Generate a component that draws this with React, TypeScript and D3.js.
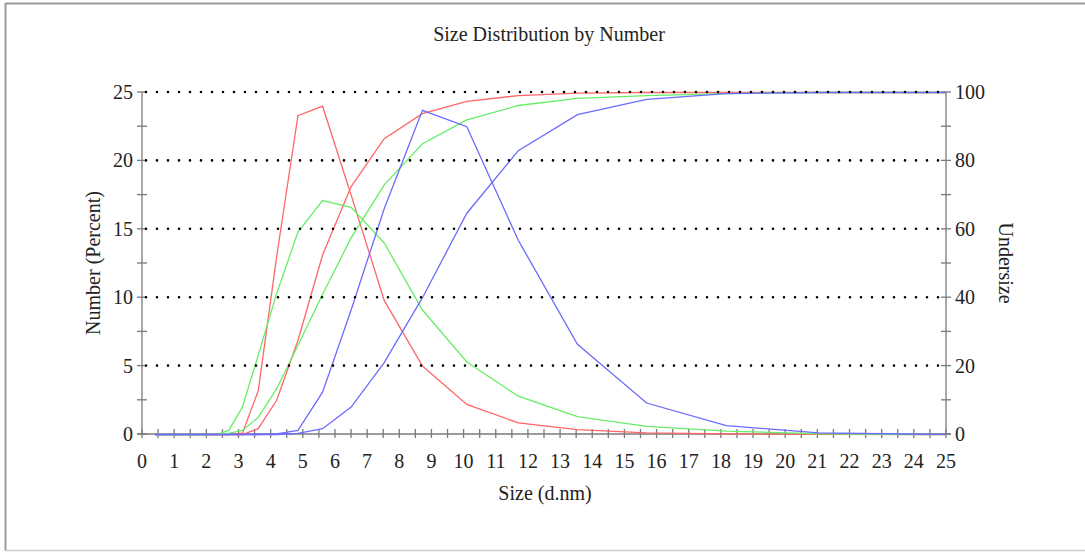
import React from "react";
import * as d3 from "d3";

const sizes = [0.4, 0.4632, 0.5365, 0.6213, 0.7195, 0.8332, 0.9649, 1.117, 1.294, 1.499, 1.736, 2.01, 2.328, 2.696, 3.122, 3.615, 4.187, 4.849, 5.615, 6.503, 7.531, 8.721, 10.1, 11.7, 13.54, 15.69, 18.17, 21.04, 24.36, 28.21];

const redNumber = [0, 0, 0, 0, 0, 0, 0, 0, 0, 0, 0, 0, 0, 0, 0.1, 3.2, 13.0, 23.3, 24.0, 17.5, 9.8, 5.0, 2.2, 0.85, 0.35, 0.12, 0.04, 0.01, 0, 0];
const redUndersize = [0, 0, 0, 0, 0, 0, 0, 0, 0, 0, 0, 0, 0, 0, 0, 1.7, 10, 27.5, 52.5, 72.5, 86.5, 93.8, 97.4, 99.1, 99.8, 100, 100, 100, 100, 100];
const greenNumber = [0, 0, 0, 0, 0, 0, 0, 0, 0, 0, 0, 0, 0, 0.3, 2.0, 5.8, 10.3, 14.8, 17.1, 16.6, 14.0, 9.1, 5.3, 2.8, 1.3, 0.6, 0.25, 0.05, 0, 0];
const greenUndersize = [0, 0, 0, 0, 0, 0, 0, 0, 0, 0, 0, 0, 0, 0.3, 1.2, 5, 13.4, 26, 41, 57.5, 73, 85, 92, 96.2, 98.3, 99.1, 99.7, 100, 100, 100];
const blueNumber = [0, 0, 0, 0, 0, 0, 0, 0, 0, 0, 0, 0, 0, 0, 0, 0, 0.05, 0.3, 3.1, 9.1, 16.5, 23.7, 22.5, 14.2, 6.6, 2.3, 0.65, 0.12, 0.02, 0];
const blueUndersize = [0, 0, 0, 0, 0, 0, 0, 0, 0, 0, 0, 0, 0, 0, 0, 0, 0, 0.3, 1.7, 8, 21, 40, 64.7, 83, 93.5, 98, 99.7, 100, 100, 100];

const xTicks = d3.range(0, 26);
const xMinorTicks = d3.range(0, 25.01, 0.5);
const leftTicks = [0, 5, 10, 15, 20, 25];
const leftMinor = d3.range(0, 25.01, 2.5);
const rightTicks = [0, 20, 40, 60, 80, 100];
const rightMinor = d3.range(0, 100.01, 10);

const title = "Size Distribution by Number";
const xTitle = "Size (d.nm)";
const yTitle = "Number (Percent)";
const y2Title = "Undersize";

const W = 1085, H = 552;
const L = 142, R = 946, T = 92, B = 434;
const FONT = "'Liberation Serif', 'Times New Roman', serif";
const FS = 20;

export default function App() {
  const x = d3.scaleLinear().domain([0, 25]).range([L, R]);
  const y = d3.scaleLinear().domain([0, 25]).range([B, T]);
  const y2 = d3.scaleLinear().domain([0, 100]).range([B, T]);
  const lineL = d3.line<number>().x((_, i) => x(sizes[i])).y((d) => y(d) + 0.5);
  const lineR = d3.line<number>().x((_, i) => x(sizes[i])).y((d) => y2(d) + 0.5);
  const axisColor = "#7a7a7a";
  const series = [
    { d: lineL(redNumber), c: "#ff6666" },
    { d: lineR(redUndersize), c: "#ff6666" },
    { d: lineL(greenNumber), c: "#66ee66" },
    { d: lineR(greenUndersize), c: "#66ee66" },
    { d: lineL(blueNumber), c: "#6b6bff" },
    { d: lineR(blueUndersize), c: "#6b6bff" },
  ];
  return (
    <div style={{ position: "absolute", left: 0, top: 0 }}>
      <svg width={W} height={H} style={{ display: "block", background: "#fff" }}>
        <defs>
          <clipPath id="plot">
            <rect x={L} y={T - 3} width={R - L} height={B - T + 6} />
          </clipPath>
        </defs>
        <line x1={5.5} x2={W} y1={3.5} y2={3.5} stroke="#999" strokeWidth={2} />
        <line x1={5.5} x2={5.5} y1={3} y2={551} stroke="#999" strokeWidth={2} />
        <line x1={5} x2={W} y1={550.5} y2={550.5} stroke="#ccc" strokeWidth={1.5} />
        <text x={549} y={41} textAnchor="middle" fontFamily={FONT} fontSize={FS} fill="#222">{title}</text>

        <line x1={L} x2={L} y1={T} y2={B} stroke={axisColor} strokeWidth={1.3} />
        <line x1={R} x2={R} y1={T} y2={B} stroke={axisColor} strokeWidth={1.3} />
        <line x1={L - 5} x2={R + 5} y1={B} y2={B} stroke={axisColor} strokeWidth={1.3} />

        {leftMinor.map((t) => (
          <line key={"lm" + t} x1={L - 5} x2={L + 5} y1={y(t)} y2={y(t)} stroke={axisColor} strokeWidth={1.3} />
        ))}
        {rightMinor.map((t) => (
          <line key={"rm" + t} x1={R - 5} x2={R + 5} y1={y2(t)} y2={y2(t)} stroke={axisColor} strokeWidth={1.3} />
        ))}
        {xMinorTicks.map((t) => (
          <line key={"xm" + t} x1={x(t)} x2={x(t)} y1={B - 5} y2={B + 4} stroke={axisColor} strokeWidth={1.3} />
        ))}

        <g clipPath="url(#plot)">
          {series.map((s, i) => (
            <path key={i} d={s.d || ""} fill="none" stroke={s.c} strokeWidth={1.3} />
          ))}
        </g>

        {leftTicks.filter((t) => t > 0).map((t) => (
          <line key={"g" + t} x1={L + 4} x2={R - 2} y1={y(t)} y2={y(t)} stroke="#000" strokeWidth={2.6} strokeDasharray="0 11" strokeLinecap="round" />
        ))}

        {leftTicks.map((t) => (
          <text key={"lt" + t} x={L - 9} y={y(t)} dy="0.35em" textAnchor="end" fontFamily={FONT} fontSize={FS} fill="#222">{t}</text>
        ))}
        {rightTicks.map((t) => (
          <text key={"rt" + t} x={R + 9} y={y2(t)} dy="0.35em" textAnchor="start" fontFamily={FONT} fontSize={FS} fill="#222">{t}</text>
        ))}
        {xTicks.map((t) => (
          <text key={"xt" + t} x={x(t)} y={461} dy="0.35em" textAnchor="middle" fontFamily={FONT} fontSize={FS} fill="#222">{t}</text>
        ))}

        <text x={545} y={500} textAnchor="middle" fontFamily={FONT} fontSize={FS} fill="#222">{xTitle}</text>
        <text transform={`translate(100,263) rotate(-90)`} textAnchor="middle" fontFamily={FONT} fontSize={FS} fill="#222">{yTitle}</text>
        <text transform={`translate(999,263) rotate(90)`} textAnchor="middle" fontFamily={FONT} fontSize={FS} fill="#222">{y2Title}</text>
      </svg>
    </div>
  );
}
